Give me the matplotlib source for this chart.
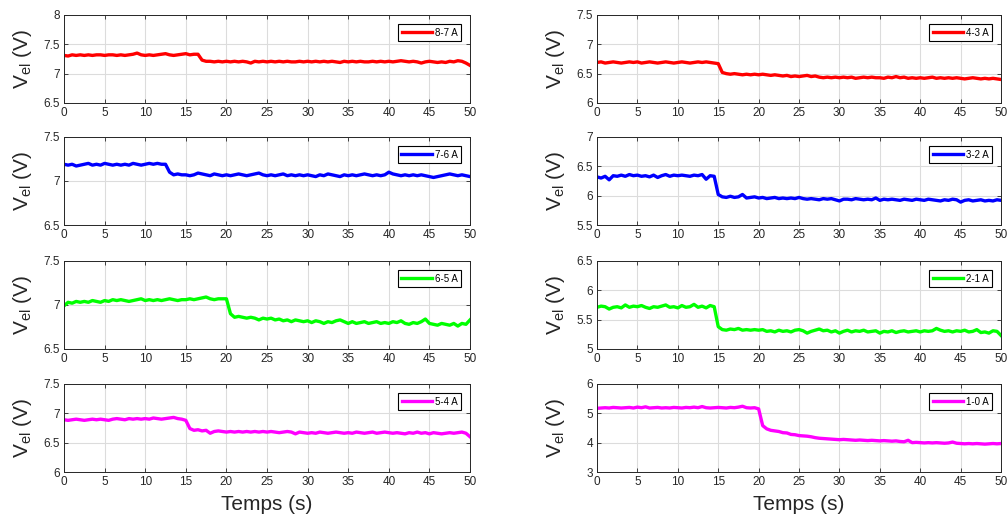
import numpy as np
import matplotlib
matplotlib.use("Agg")
import matplotlib.pyplot as plt

# temps (s), un point toutes les 0.5 s
temps = np.arange(0, 50.01, 0.5)

v_87 = [7.31, 7.30, 7.32, 7.31, 7.32, 7.31, 7.32, 7.31, 7.32, 7.32,
        7.31, 7.32, 7.32, 7.31, 7.32, 7.31, 7.32, 7.33, 7.35, 7.32,
        7.31, 7.32, 7.31, 7.32, 7.33, 7.34, 7.32, 7.31, 7.32, 7.33,
        7.34, 7.32, 7.33, 7.33, 7.23, 7.21, 7.21, 7.20, 7.21, 7.20,
        7.21, 7.20, 7.21, 7.20, 7.21, 7.20, 7.18, 7.21, 7.20, 7.21,
        7.20, 7.21, 7.20, 7.21, 7.20, 7.21, 7.20, 7.20, 7.21, 7.20,
        7.21, 7.20, 7.21, 7.20, 7.21, 7.20, 7.21, 7.20, 7.19, 7.21,
        7.20, 7.21, 7.20, 7.21, 7.20, 7.20, 7.21, 7.20, 7.21, 7.20,
        7.21, 7.20, 7.21, 7.22, 7.21, 7.20, 7.21, 7.20, 7.18, 7.20,
        7.21, 7.20, 7.19, 7.20, 7.19, 7.21, 7.20, 7.22, 7.21, 7.18,
        7.14]

v_76 = [7.19, 7.18, 7.19, 7.17, 7.18, 7.19, 7.20, 7.18, 7.19, 7.18,
        7.20, 7.19, 7.18, 7.19, 7.18, 7.19, 7.18, 7.20, 7.19, 7.18,
        7.19, 7.20, 7.19, 7.20, 7.19, 7.19, 7.10, 7.07, 7.08, 7.07,
        7.07, 7.06, 7.07, 7.09, 7.08, 7.07, 7.06, 7.08, 7.07, 7.06,
        7.07, 7.06, 7.07, 7.08, 7.07, 7.06, 7.07, 7.08, 7.09, 7.07,
        7.06, 7.07, 7.06, 7.07, 7.08, 7.06, 7.07, 7.06, 7.07, 7.06,
        7.07, 7.06, 7.05, 7.07, 7.06, 7.08, 7.07, 7.06, 7.05, 7.07,
        7.06, 7.07, 7.06, 7.07, 7.08, 7.07, 7.06, 7.07, 7.06, 7.07,
        7.10, 7.08, 7.07, 7.06, 7.07, 7.06, 7.07, 7.06, 7.07, 7.06,
        7.05, 7.04, 7.05, 7.06, 7.07, 7.08, 7.07, 7.06, 7.07, 7.06,
        7.05]

v_65 = [6.99, 7.03, 7.02, 7.04, 7.03, 7.04, 7.03, 7.05, 7.04, 7.03,
        7.05, 7.04, 7.06, 7.05, 7.06, 7.05, 7.04, 7.05, 7.06, 7.07,
        7.05, 7.06, 7.05, 7.06, 7.05, 7.06, 7.07, 7.06, 7.05, 7.06,
        7.06, 7.07, 7.06, 7.07, 7.08, 7.09, 7.07, 7.06, 7.07, 7.07,
        7.07, 6.90, 6.86, 6.87, 6.86, 6.85, 6.86, 6.85, 6.83, 6.85,
        6.84, 6.85, 6.83, 6.84, 6.82, 6.83, 6.81, 6.83, 6.82, 6.81,
        6.82, 6.80, 6.82, 6.81, 6.79, 6.81, 6.80, 6.82, 6.83, 6.81,
        6.79, 6.81, 6.79, 6.80, 6.81, 6.79, 6.80, 6.81, 6.79, 6.80,
        6.79, 6.81, 6.80, 6.82, 6.79, 6.78, 6.80, 6.79, 6.81, 6.84,
        6.79, 6.78, 6.77, 6.79, 6.78, 6.77, 6.79, 6.76, 6.79, 6.78,
        6.83]

v_54 = [6.89, 6.88, 6.89, 6.90, 6.89, 6.88, 6.89, 6.90, 6.89, 6.90,
        6.89, 6.88, 6.90, 6.91, 6.90, 6.89, 6.91, 6.90, 6.91, 6.90,
        6.91, 6.90, 6.92, 6.91, 6.90, 6.91, 6.92, 6.93, 6.91, 6.90,
        6.88, 6.74, 6.71, 6.72, 6.70, 6.71, 6.66, 6.69, 6.70, 6.69,
        6.68, 6.69, 6.68, 6.69, 6.68, 6.69, 6.68, 6.69, 6.68, 6.69,
        6.68, 6.69, 6.68, 6.67, 6.68, 6.69, 6.68, 6.65, 6.68, 6.67,
        6.66, 6.67, 6.66, 6.68, 6.67, 6.66, 6.67, 6.68, 6.67, 6.66,
        6.67, 6.66, 6.68, 6.67, 6.66, 6.67, 6.68, 6.66, 6.67, 6.68,
        6.67, 6.66, 6.67, 6.66, 6.65, 6.67, 6.66, 6.68, 6.66, 6.67,
        6.65, 6.67, 6.66, 6.65, 6.66, 6.67, 6.66, 6.67, 6.68, 6.66,
        6.60]

v_43 = [6.69, 6.70, 6.68, 6.69, 6.70, 6.69, 6.68, 6.69, 6.70, 6.69,
        6.70, 6.68, 6.69, 6.70, 6.69, 6.68, 6.69, 6.70, 6.69, 6.68,
        6.69, 6.70, 6.69, 6.68, 6.69, 6.70, 6.69, 6.70, 6.69, 6.68,
        6.67, 6.52, 6.50, 6.49, 6.50, 6.49, 6.48, 6.49, 6.48, 6.49,
        6.48, 6.49, 6.48, 6.47, 6.48, 6.47, 6.46, 6.47, 6.45, 6.46,
        6.45, 6.46, 6.47, 6.45, 6.46, 6.44, 6.43, 6.44, 6.43, 6.44,
        6.43, 6.44, 6.43, 6.44, 6.42, 6.43, 6.44, 6.43, 6.44, 6.43,
        6.43, 6.42, 6.44, 6.43, 6.45, 6.43, 6.44, 6.42, 6.43, 6.42,
        6.43, 6.42, 6.43, 6.44, 6.42, 6.43, 6.42, 6.43, 6.42, 6.43,
        6.42, 6.41, 6.42, 6.43, 6.42, 6.41, 6.42, 6.41, 6.42, 6.41,
        6.40]

v_32 = [6.32, 6.30, 6.33, 6.27, 6.34, 6.33, 6.35, 6.33, 6.36, 6.34,
        6.35, 6.33, 6.34, 6.32, 6.35, 6.31, 6.34, 6.36, 6.33, 6.35,
        6.34, 6.35, 6.34, 6.33, 6.35, 6.34, 6.36, 6.28, 6.34, 6.33,
        6.02, 5.98, 5.97, 5.99, 5.97, 5.98, 6.02, 5.96, 5.97, 5.98,
        5.96, 5.97, 5.95, 5.96, 5.97, 5.95, 5.96, 5.95, 5.96, 5.95,
        5.97, 5.95, 5.94, 5.95, 5.94, 5.93, 5.95, 5.94, 5.95, 5.93,
        5.91, 5.94, 5.94, 5.93, 5.95, 5.94, 5.93, 5.94, 5.93, 5.96,
        5.92, 5.94, 5.93, 5.94, 5.93, 5.92, 5.94, 5.93, 5.92, 5.94,
        5.93, 5.92, 5.94, 5.93, 5.92, 5.91, 5.93, 5.92, 5.94, 5.93,
        5.89, 5.92, 5.93, 5.91, 5.92, 5.93, 5.91, 5.92, 5.91, 5.93,
        5.92]

v_21 = [5.71, 5.73, 5.72, 5.68, 5.71, 5.72, 5.70, 5.75, 5.71, 5.73,
        5.72, 5.74, 5.71, 5.69, 5.72, 5.71, 5.73, 5.75, 5.71, 5.72,
        5.70, 5.74, 5.71, 5.72, 5.76, 5.71, 5.73, 5.70, 5.74, 5.72,
        5.38, 5.33, 5.32, 5.34, 5.33, 5.35, 5.32, 5.33, 5.32, 5.33,
        5.32, 5.33, 5.30, 5.31, 5.29, 5.32, 5.30, 5.31, 5.29, 5.32,
        5.33, 5.31, 5.27, 5.30, 5.32, 5.34, 5.31, 5.32, 5.29, 5.31,
        5.27, 5.30, 5.32, 5.29, 5.31, 5.30, 5.32, 5.29, 5.30, 5.31,
        5.27, 5.30, 5.29, 5.31, 5.28, 5.30, 5.31, 5.29, 5.30, 5.31,
        5.29, 5.31, 5.30, 5.31, 5.35, 5.32, 5.30, 5.31, 5.29, 5.31,
        5.30, 5.32, 5.29, 5.30, 5.33, 5.28, 5.29, 5.27, 5.31, 5.30,
        5.23]

v_10 = [5.17, 5.18, 5.19, 5.18, 5.20, 5.19, 5.18, 5.19, 5.20, 5.18,
        5.21, 5.19, 5.22, 5.18, 5.19, 5.20, 5.18, 5.19, 5.18, 5.20,
        5.19, 5.18, 5.20, 5.19, 5.21, 5.19, 5.23, 5.19, 5.18, 5.19,
        5.20, 5.19, 5.18, 5.20, 5.19, 5.21, 5.24, 5.19, 5.18, 5.19,
        5.15, 4.58, 4.47, 4.42, 4.40, 4.38, 4.34, 4.33, 4.28, 4.27,
        4.24, 4.23, 4.22, 4.20, 4.17, 4.15, 4.14, 4.13, 4.12, 4.11,
        4.10, 4.11, 4.10, 4.09, 4.08, 4.09, 4.08, 4.07, 4.08, 4.07,
        4.06, 4.07, 4.06, 4.05, 4.06, 4.04, 4.03, 4.08, 4.00, 4.01,
        4.00, 3.99, 4.00, 3.99, 4.00, 3.99, 3.98, 3.99, 4.02, 3.98,
        3.97, 3.96, 3.97, 3.96, 3.97, 3.96, 3.95, 3.96, 3.97, 3.96,
        3.97]

# colonne gauche puis colonne droite, de haut en bas
series = [v_87, v_76, v_65, v_54, v_43, v_32, v_21, v_10]
legendes = ['8-7 A', '7-6 A', '6-5 A', '5-4 A', '4-3 A', '3-2 A', '2-1 A', '1-0 A']
couleurs = ['#ff0000', '#0000ff', '#00ff00', '#ff00ff'] * 2
limites_y = [(6.5, 8), (6.5, 7.5), (6.5, 7.5), (6, 7.5),
             (6, 7.5), (5.5, 7), (5, 6.5), (3, 6)]
pas_y = [0.5, 0.5, 0.5, 0.5, 0.5, 0.5, 0.5, 1]

plt.rcParams['font.family'] = ['Liberation Sans', 'DejaVu Sans']
plt.rcParams['mathtext.default'] = 'regular'

fig = plt.figure(figsize=(10.08, 5.18), dpi=100)

gauches = [0.0635, 0.5923]
largeurs = [0.4028, 0.4008]
bas = [0.8012, 0.5656, 0.3263, 0.0888]
hauteur = 0.170

gris = '#262626'

for i, v in enumerate(series):
    col = i // 4
    ligne = i % 4
    ax = fig.add_axes([gauches[col], bas[ligne], largeurs[col], hauteur])
    ax.plot(temps, v, color=couleurs[i], linewidth=2.4, label=legendes[i])

    ax.set_xlim(0, 50)
    ax.set_ylim(*limites_y[i])
    ax.set_xticks(np.arange(0, 51, 5))
    ax.set_yticks(np.arange(limites_y[i][0], limites_y[i][1] + 0.01, pas_y[i]))
    ax.yaxis.set_major_formatter(plt.FuncFormatter(lambda y, p: f'{y:g}'))

    ax.grid(True, color='#dcdcdc', linewidth=0.8)
    ax.set_axisbelow(True)
    ax.tick_params(direction='in', length=3, width=0.6, colors=gris,
                   labelsize=8.5, top=True, right=True, pad=3)
    for s in ax.spines.values():
        s.set_color(gris)
        s.set_linewidth(0.7)

    ax.set_ylabel('V$_{el}$ (V)', fontsize=15, color=gris)
    ax.yaxis.set_label_coords(-0.075, 0.5)
    if ligne == 3:
        ax.set_xlabel('Temps (s)', fontsize=15, color=gris, labelpad=5)

    leg = ax.legend(loc='upper right', fontsize=7, handlelength=3.1,
                    handletextpad=0.3, borderaxespad=0.9, borderpad=0.4,
                    fancybox=False, framealpha=1, edgecolor='black')
    leg.get_frame().set_linewidth(0.8)

fig.savefig('out.png', dpi=100)
